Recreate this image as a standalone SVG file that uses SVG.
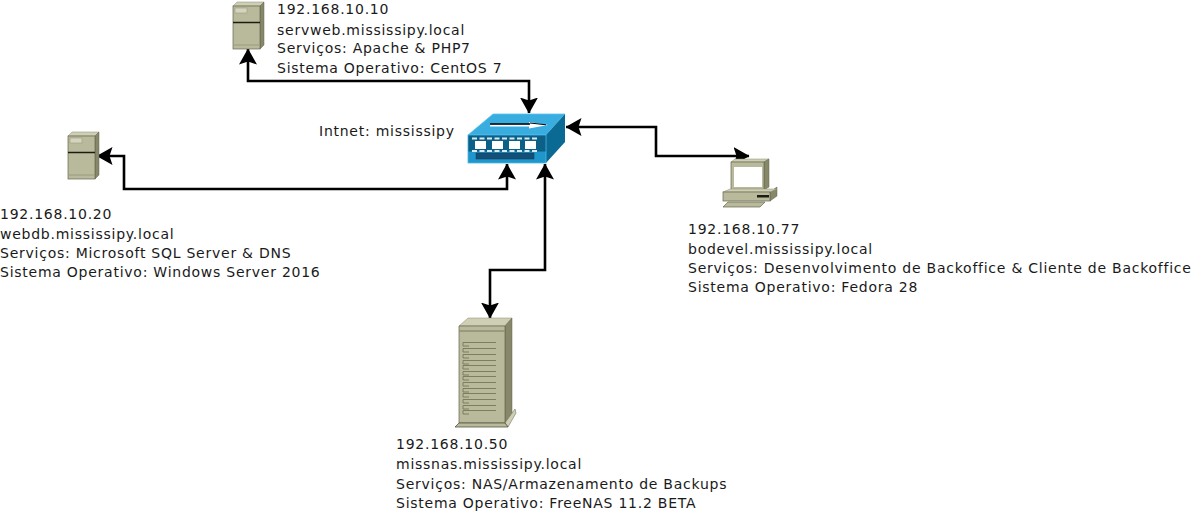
<svg xmlns="http://www.w3.org/2000/svg" width="1199" height="513" viewBox="0 0 1199 513">
<style>
text{font-family:"DejaVu Sans",sans-serif;font-size:14px;letter-spacing:.75px;fill:#1a1a1a}
.c{fill:none;stroke:#000;stroke-width:2.6}
.a{fill:#000;stroke:none}
.f{fill:#b9b99b;stroke:#66664e;stroke-width:.7}
.t{fill:#cfcfb6;stroke:#8a8a70;stroke-width:.5}
.s{fill:#87876a;stroke:#66664e;stroke-width:.5}
.d{stroke:#1c1c14;stroke-width:1.5;fill:none}
.r{stroke:#7d7d62;stroke-width:1;fill:none}
</style>
<defs>
<marker id="ah" viewBox="0 0 16 18" refX="15.500" refY="9" markerUnits="userSpaceOnUse" markerWidth="16" markerHeight="18" orient="auto-start-reverse"><path class="a" d="M0 0L16 9L0 18L3 9Z"/></marker>
<g id="srv">
<path class="t" d="M0 4L4 0H31L27 4Z"/>
<path class="s" d="M27 4L31 0V43L27 47Z"/>
<rect class="f" x="0" y="4" width="27" height="43"/>
<rect x="2" y="6" width="12" height="5" fill="#d4d4bf" stroke="#9a9a80" stroke-width=".6"/>
<path class="d" d="M0 20.500H27"/>
<path d="M0 43H27" stroke="#9a9a80" stroke-width="1"/>
</g>
</defs>
<g id="connectors">
<path class="c" marker-start="url(#ah)" marker-end="url(#ah)" d="M248 49V81H529V113"/>
<path class="c" marker-start="url(#ah)" marker-end="url(#ah)" d="M97 156H124V189H507V164"/>
<path class="c" marker-start="url(#ah)" marker-end="url(#ah)" d="M566 127H656V156H749"/>
<path class="c" marker-start="url(#ah)" marker-end="url(#ah)" d="M545 164V270H490V318"/>
</g>
<g id="switch">
<path d="M493 114H565L546 135H468Z" fill="#39addf" stroke="#5ec1ea" stroke-width=".8"/>
<path d="M546 135L565 114V142L546 163Z" fill="#0a6a94"/>
<rect x="468" y="135" width="78" height="28" fill="#1f97cb" stroke="#4db8e6" stroke-width=".8"/>
<rect x="468.500" y="135.500" width="77" height="16" fill="#0c5f86"/>
<path d="M472 138.500H539M472 151H539" stroke="#d7ebf3" stroke-width="2" stroke-dasharray="5 2.500"/>
<g fill="#fff"><rect x="475" y="141" width="11" height="8"/><rect x="492" y="141" width="11" height="8"/><rect x="509" y="141" width="11" height="8"/><rect x="525" y="141" width="11" height="8"/></g>
<rect x="476" y="153" width="58" height="6" fill="#164f75" stroke="#0e3d5e" stroke-width=".5"/>
<path d="M490 124.500H529V122L548 125L529 128.500V126.500H490Z" fill="#fff"/>
<path d="M490 124H530" stroke="#000" stroke-width="1.300" fill="none"/>
<path d="M530 123L546 124.800" stroke="#000" stroke-width="1" fill="none"/>
</g>
<g id="servweb">
<use href="#srv" x="233" y="2"/>
<text x="277" y="14">192.168.10.10</text>
<text x="277" y="35">servweb.mississipy.local</text>
<text x="277" y="53">Serviços: Apache &amp; PHP7</text>
<text x="277" y="73">Sistema Operativo: CentOS 7</text>
</g>
<g id="webdb">
<use href="#srv" x="68" y="132"/>
<text x="0" y="219">192.168.10.20</text>
<text x="0" y="239">webdb.mississipy.local</text>
<text x="0" y="258">Serviços: Microsoft SQL Server &amp; DNS</text>
<text x="0" y="277">Sistema Operativo: Windows Server 2016</text>
</g>
<g id="bodevel">
<path class="t" d="M731 162L735 159H769L764 162Z"/>
<path class="s" d="M764 162L769 159V187L764 190Z"/>
<rect class="f" x="731" y="162" width="33" height="28"/>
<rect x="734" y="167" width="28" height="20" fill="#fff"/>
<path class="s" d="M770 192L777 187V196L770 201Z"/>
<path class="t" d="M723 192L730 189H777L770 192Z"/>
<rect class="f" x="723" y="192" width="47" height="9"/>
<rect x="757" y="195" width="12" height="2.500" fill="#1c1c14"/>
<path class="f" d="M728 202H765L760 207H723Z"/>
<text x="688" y="234">192.168.10.77</text>
<text x="688" y="254">bodevel.mississipy.local</text>
<text x="688" y="273">Serviços: Desenvolvimento de Backoffice &amp; Cliente de Backoffice</text>
<text x="688" y="292">Sistema Operativo: Fedora 28</text>
</g>
<g id="missnas">
<path class="t" d="M459 326L468 318H512L505 326Z"/>
<path class="s" d="M505 326L512 318V413L505 423Z"/>
<path d="M505 423L515 409L516 413L508 427Z" fill="#cfcfb6" stroke="#77775e" stroke-width=".6"/>
<path class="f" d="M459 326H505V423H459Z"/>
<path d="M459 423H505L508 427H455Z" fill="#b9b99b" stroke="#55553f" stroke-width=".8"/>
<path d="M459 331H505" stroke="#8f8f74" stroke-width="1.500"/>
<path class="r" d="M463 342.500H496M463 348.500H496M463 354.500H496M463 360.500H496M463 365.500H496M463 371.500H496M463 376.500H496M463 382.500H496M463 388.500H496M463 393.500H496M463 399.500H496M463 405.500H496M463 410.500H496M463 342.500V346H469M463 348.500V352H469M463 354.500V358H469M463 360.500V364H469M463 365.500V369H469M463 371.500V375H469M463 376.500V380H469M463 382.500V386H469M463 388.500V392H469M463 393.500V397H469M463 399.500V403H469M463 405.500V409H469M463 410.500V414H469"/>
<text x="396" y="449">192.168.10.50</text>
<text x="396" y="469">missnas.mississipy.local</text>
<text x="396" y="489">Serviços: NAS/Armazenamento de Backups</text>
<text x="396" y="508">Sistema Operativo: FreeNAS 11.2 BETA</text>
</g>
<text id="intnet" x="319" y="136">Intnet: mississipy</text>
</svg>
